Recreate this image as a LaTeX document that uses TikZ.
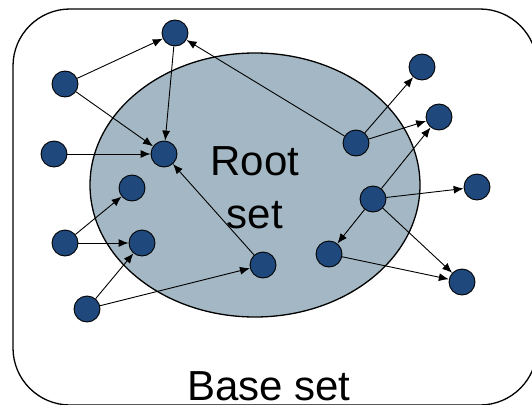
\documentclass[tikz,border=0pt]{standalone}
\usepackage{fontspec}
\setmainfont{Liberation Sans}
\usetikzlibrary{arrows.meta}
\definecolor{nodeblue}{RGB}{31,73,125}
\definecolor{rootfill}{RGB}{163,184,196}
\begin{document}
\begin{tikzpicture}[x=1pt,y=-1pt,
  page/.style={draw=black,line width=1.3pt,rounded corners=57pt},
  rootset/.style={draw=black,line width=1.3pt,fill=rootfill},
  vertex/.style={circle,draw=black,line width=0.9pt,fill=nodeblue,minimum size=26pt,inner sep=0pt},
  link/.style={draw=black,line width=0.9pt,-{Latex[length=10pt,width=8pt]}},
  label/.style={font=\fontsize{42}{53}\selectfont,align=center,inner sep=0pt}]
  \useasboundingbox (0,0) rectangle (532,404);
  \clip (0,0) rectangle (532,404);
  % base set and root set
  \draw[page] (13,9) rectangle (537,405);
  \draw[rootset] (255,185) ellipse [x radius=165, y radius=132];
  % the base anchor of a two-line node sits on its last line
  \node[label,anchor=base] (roottxt) at (255,228) {Root\\set};
  \node[label,anchor=base] (basetxt) at (269,400) {Base set};
  % pages
  \node[vertex] (a) at (175,33) {};
  \node[vertex] (b) at (65,84) {};
  \node[vertex] (c) at (164,154) {};
  \node[vertex] (d) at (54,154) {};
  \node[vertex] (e) at (132,188) {};
  \node[vertex] (f) at (65,243) {};
  \node[vertex] (g) at (142,243) {};
  \node[vertex] (h) at (87,309) {};
  \node[vertex] (i) at (263,265) {};
  \node[vertex] (j) at (356,143) {};
  \node[vertex] (k) at (422,67) {};
  \node[vertex] (l) at (439,117) {};
  \node[vertex] (m) at (373,199) {};
  \node[vertex] (n) at (477,187) {};
  \node[vertex] (o) at (329,254) {};
  \node[vertex] (p) at (462,282) {};
  % hyperlinks
  \draw[link] (b) -- (a);
  \draw[link] (b) -- (c);
  \draw[link] (a) -- (c);
  \draw[link] (d) -- (c);
  \draw[link] (i) -- (c);
  \draw[link] (j) -- (a);
  \draw[link] (j) -- (k);
  \draw[link] (j) -- (l);
  \draw[link] (m) -- (l);
  \draw[link] (m) -- (n);
  \draw[link] (m) -- (o);
  \draw[link] (m) -- (p);
  \draw[link] (o) -- (p);
  \draw[link] (f) -- (e);
  \draw[link] (f) -- (g);
  \draw[link] (h) -- (g);
  \draw[link] (h) -- (i);
\end{tikzpicture}
\end{document}
